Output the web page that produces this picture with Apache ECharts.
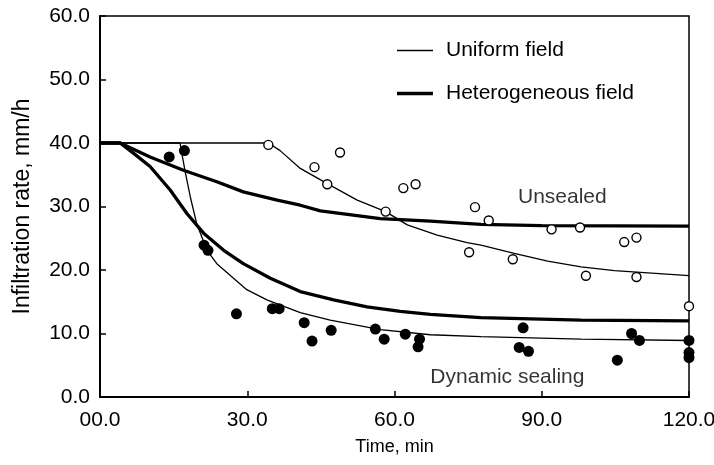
<!DOCTYPE html>
<html><head><meta charset="utf-8">
<script src="https://cdn.jsdelivr.net/npm/echarts@6/dist/echarts.min.js"></script>
<style>html,body{margin:0;padding:0;background:#fff}#c{width:714px;height:465px}</style>
</head><body><div id="c"></div>
<script>
// Observed data: unsealed (open circles)
var unsealedObs = [[34.3,39.7],[43.7,36.2],[46.3,33.5],[48.9,38.5],[58.2,29.2],[61.8,32.9],[64.3,33.5],[75.2,22.8],[76.4,29.9],[79.2,27.8],[84.1,21.7],[92.0,26.4],[97.8,26.7],[99.0,19.1],[106.8,24.4],[109.3,25.1],[109.3,18.9],[120.0,14.3]];
// Observed data: dynamic sealing (filled circles)
var sealingObs = [[14.1,37.8],[17.2,38.8],[21.2,23.9],[22.0,23.1],[27.8,13.1],[35.1,13.9],[36.5,13.9],[41.6,11.7],[43.2,8.8],[47.1,10.5],[56.1,10.7],[57.9,9.1],[62.2,9.9],[65.1,9.1],[64.8,7.9],[86.2,10.9],[85.4,7.8],[87.3,7.2],[105.4,5.8],[108.3,10.0],[109.9,8.9],[120,8.9],[120,7.0],[120,6.2]];
// Model curves
var uniformUnsealed = [[0,40],[34.3,40],[36.7,38.8],[40.8,36.0],[46.3,33.6],[52.4,31.0],[58.2,29.2],[62.6,27.1],[68.7,25.5],[74.8,24.3],[77.6,23.9],[84.4,22.6],[91.2,21.4],[98,20.5],[104.8,19.9],[120,19.1]];
var uniformSealing = [[0,40],[16.3,40],[17.3,35.7],[18.4,31.5],[19.7,27.3],[21.8,23.1],[23.8,21.0],[27.2,18.7],[29.9,16.9],[34,15.3],[40.8,13.3],[46.9,12.1],[57.1,10.6],[67.3,9.8],[77.6,9.5],[98,9.1],[120,8.9]];
var heteroUnsealed = [[0,40],[4.1,40],[10.2,37.8],[17,35.7],[23.8,33.9],[29.2,32.3],[36.1,31.0],[40.8,30.2],[44.9,29.3],[57.1,28.1],[67.3,27.7],[77.6,27.2],[90,27.0],[120,26.9]];
var heteroSealing = [[0,40],[4.1,40],[6.8,38.4],[10.2,36.3],[14.3,32.6],[17.7,28.9],[21.1,25.8],[25.2,23.1],[29.2,21.0],[34.7,18.7],[40.8,16.6],[47.6,15.3],[54.4,14.2],[61.2,13.5],[67.3,13.0],[77.6,12.5],[98,12.1],[120,12.0]];
// Legend names
var legendNames = ['Uniform field','Heterogeneous field'];
// Annotations [x, y, text]
var annotations = [[94.2,31.5,'Unsealed'],[83.0,3.1,'Dynamic sealing']];
// Axis tick labels
var xTickLabels = {0:'00.0',30:'30.0',60:'60.0',90:'90.0',120:'120.0'};

var FONT = 'Liberation Sans';
var THIN = 1.3, THICK = 3.3;
var chart = echarts.init(document.getElementById('c'));
function lineSeries(name, data, w){
  return {type:'line', name:name, data:data, symbol:'none', showSymbol:false, smooth:false,
    lineStyle:{color:'#000', width:w}, itemStyle:{color:'#000'}, z:2, animation:false, silent:true};
}
chart.setOption({
  animation:false,
  backgroundColor:'#fff',
  grid:{left:100, right:25, top:16, bottom:68, containLabel:false, outerBoundsMode:'none',
    show:true, borderColor:'#000', borderWidth:1.5, backgroundColor:'transparent'},
  legend:{orient:'vertical', left:397, top:40, padding:0, itemWidth:36, itemHeight:14, itemGap:22, selectedMode:false,
    symbolKeepAspect:true,
    data:[
      {name:legendNames[0], icon:'path://M0,0L36,0L36,'+THIN+'L0,'+THIN+'Z', itemStyle:{color:'#000'}},
      {name:legendNames[1], icon:'path://M0,0L36,0L36,'+THICK+'L0,'+THICK+'Z', itemStyle:{color:'#000'}}
    ],
    textStyle:{fontFamily:FONT, fontSize:21, color:'#000', padding:[0,0,0,8]}},
  xAxis:{type:'value', min:0, max:120, interval:30,
    name:'Time, min', nameLocation:'middle', nameGap:41,
    nameTextStyle:{fontFamily:FONT, fontSize:18, color:'#000'},
    axisLine:{show:true, lineStyle:{color:'#000', width:2}},
    axisTick:{show:true, inside:true, length:6, lineStyle:{color:'#000', width:1.5}},
    axisLabel:{margin:13, fontFamily:FONT, fontSize:21, color:'#000', formatter:function(v){return xTickLabels[v]!==undefined?xTickLabels[v]:v.toFixed(1);}},
    splitLine:{show:false}},
  yAxis:{type:'value', min:0, max:60, interval:10,
    name:'Infiltration rate, mm/h', nameLocation:'middle', nameGap:66, nameRotate:90,
    nameTextStyle:{fontFamily:FONT, fontSize:23, color:'#000'},
    axisLine:{show:true, lineStyle:{color:'#000', width:2}},
    axisTick:{show:true, inside:true, length:6, lineStyle:{color:'#000', width:1.5}},
    axisLabel:{margin:10, fontFamily:FONT, fontSize:21, color:'#000', formatter:function(v){return v.toFixed(1);}},
    splitLine:{show:false}},
  series:[
    lineSeries(legendNames[0], uniformUnsealed, THIN),
    lineSeries(legendNames[0], uniformSealing, THIN),
    lineSeries(legendNames[1], heteroUnsealed, THICK),
    lineSeries(legendNames[1], heteroSealing, THICK),
    {type:'scatter', name:'Unsealed obs', data:unsealedObs, symbol:'circle', symbolSize:9,
      itemStyle:{color:'#fff', borderColor:'#000', borderWidth:1.4, opacity:1}, z:5, silent:true},
    {type:'scatter', name:'Sealing obs', data:sealingObs, symbol:'circle', symbolSize:11,
      itemStyle:{color:'#000', borderWidth:0, opacity:1}, z:5, silent:true},
    {type:'scatter', name:'annot', symbolSize:0, silent:true,
      data:annotations.map(function(a){return {value:[a[0],a[1]], name:a[2]};}),
      label:{show:true, position:'inside', formatter:'{b}', fontFamily:FONT, fontSize:21, color:'#000'}, z:6}
  ]
});
</script></body></html>
